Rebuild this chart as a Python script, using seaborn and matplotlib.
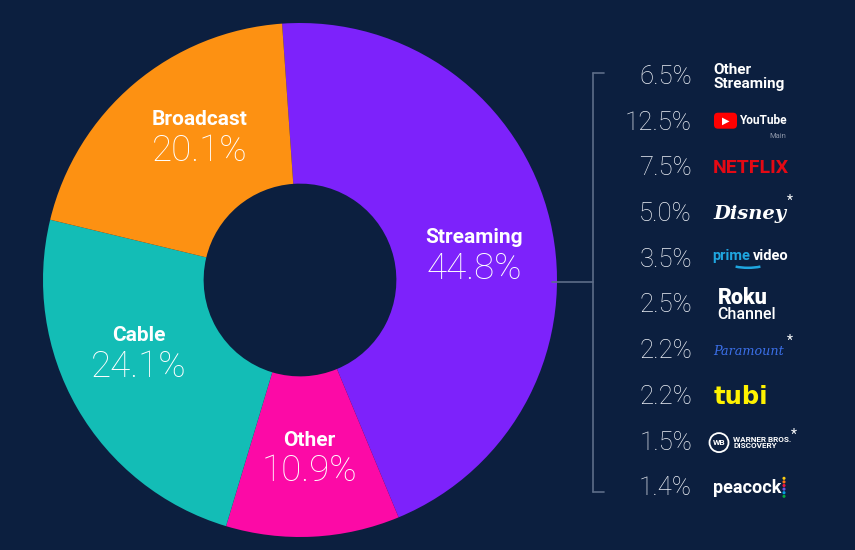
import numpy as np
import matplotlib
matplotlib.use("Agg")
import matplotlib.pyplot as plt
import seaborn as sns
from matplotlib.patches import Arc, Circle, FancyBboxPatch

# viewing share by platform
segments = ["Streaming", "Other", "Cable", "Broadcast"]
shares = [44.8, 10.9, 24.1, 20.1]
segment_colors = ["#7d22fb", "#fc0aa6", "#13bdb6", "#fd9112"]

# streaming breakdown
services = ["Other Streaming", "YouTube", "Netflix", "Disney", "Prime Video",
            "Roku Channel", "Paramount", "Tubi", "Warner Bros. Discovery", "Peacock"]
service_shares = [6.5, 12.5, 7.5, 5.0, 3.5, 2.5, 2.2, 2.2, 1.5, 1.4]

# small angular nudges (degrees) so labels sit where the original has them
label_nudge = [-4.5, 0.0, -6.0, -5.5]

BG = "#0c1f3f"
LINE = "#5d6d88"

sns.set_theme(style="dark", rc={"figure.facecolor": BG, "axes.facecolor": BG,
                                "savefig.facecolor": BG})
plt.rcParams["font.family"] = ["Roboto", "DejaVu Sans"]

fig = plt.figure(figsize=(8.55, 5.5), dpi=100)

# donut
ax = fig.add_axes([43 / 855, 13 / 550, 514 / 855, 514 / 550])
wedges, _ = ax.pie(shares, colors=sns.color_palette(segment_colors), startangle=94,
                   counterclock=False, radius=1,
                   wedgeprops=dict(width=0.625, linewidth=0))
ax.set_xlim(-1, 1)
ax.set_ylim(-1, 1)
ax.set_axis_off()

for w, name, val, nudge in zip(wedges, segments, shares, label_nudge):
    mid = np.deg2rad((w.theta1 + w.theta2) / 2 + nudge)
    x, y = 0.685 * np.cos(mid), 0.685 * np.sin(mid)
    ax.text(x, y + 0.06, name, ha="center", va="center", fontsize=15,
            fontweight="bold", color="white")
    ax.text(x, y - 0.06, f"{val:.1f}%", ha="center", va="center", fontsize=26.5,
            fontweight="light", color="white")

# overlay in pixel units for the breakdown list
ov = fig.add_axes([0, 0, 1, 1])
ov.set_xlim(0, 855)
ov.set_ylim(550, 0)
ov.set_axis_off()
ov.patch.set_alpha(0)

top, bot = 73, 492
ov.plot([593, 593], [top, bot], color=LINE, lw=1.2)
ov.plot([593, 604], [top, top], color=LINE, lw=1.2)
ov.plot([593, 604], [bot, bot], color=LINE, lw=1.2)
ov.plot([552, 593], [282, 282], color=LINE, lw=1.2)

LX = 713


def logo_other(y):
    ov.text(LX, y, "Other\nStreaming", ha="left", va="center", fontsize=11,
            fontweight="bold", color="white", linespacing=1.0)


def logo_youtube(y):
    ov.add_patch(FancyBboxPatch((714, y - 10), 23, 16,
                                boxstyle="round,pad=0,rounding_size=4",
                                fc="#ff0000", ec="none"))
    ov.text(726, y - 2, "▶", ha="center", va="center", fontsize=7, color="white",
            family=["DejaVu Sans"])
    ov.text(739, y - 2, "YouTube", ha="left", va="center", fontsize=8.6,
            fontweight="bold", color="white")
    ov.text(786, y + 13, "Main", ha="right", va="center", fontsize=5.5, color="#8a93a6")


def logo_netflix(y):
    ov.text(LX, y, "NETFLIX", ha="left", va="center", fontsize=14,
            fontweight="bold", color="#e50914")


def logo_disney(y):
    ov.text(LX, y, "Disney", ha="left", va="center", fontsize=14,
            family=["DejaVu Serif"], style="italic", fontweight="bold", color="white")
    ov.text(787, y - 13, "*", ha="left", va="center", fontsize=10, color="white")


def logo_prime(y):
    t = ov.text(LX - 1, y - 4, "prime", ha="left", va="center", fontsize=10.5,
                fontweight="bold", color="#1fa6e0")
    ov.annotate("video", xy=(1, 0.5), xycoords=t, xytext=(2, 0),
                textcoords="offset points", ha="left", va="center",
                fontsize=10.5, fontweight="bold", color="white")
    ov.add_patch(Arc((748, y + 1), 44, 14, theta1=25, theta2=155,
                     color="#1fa6e0", lw=1.8))


def logo_roku(y):
    ov.text(LX + 5, y - 8, "Roku", ha="left", va="center", fontsize=15.5,
            fontweight="black", color="white")
    ov.text(LX + 4, y + 9, "Channel", ha="left", va="center", fontsize=11.5,
            fontweight="medium", color="white")


def logo_paramount(y):
    ov.text(LX, y, "Paramount", ha="left", va="center", fontsize=9.2,
            family=["DejaVu Serif"], style="italic", color="#3b6fe8")
    ov.text(787, y - 10, "*", ha="left", va="center", fontsize=10, color="white")


def logo_tubi(y):
    ov.text(LX + 1, y, "tubi", ha="left", va="center", fontsize=17.5,
            family=["DejaVu Sans"], fontweight="bold", color="#fff200")


def logo_wb(y):
    ov.add_patch(Circle((719, y), 9.5, fc="none", ec="white", lw=1.3))
    ov.text(719, y, "WB", ha="center", va="center", fontsize=6,
            fontweight="bold", color="white")
    ov.text(733, y, "WARNER BROS.\nDISCOVERY", ha="left", va="center", fontsize=5.9,
            fontweight="bold", color="white", linespacing=0.95)
    ov.text(791, y - 8, "*", ha="left", va="center", fontsize=10, color="white")


def logo_peacock(y):
    ov.text(LX, y, "peacock", ha="left", va="center", fontsize=13,
            fontweight="bold", color="white")
    dots = ["#fccc12", "#ff7112", "#ef1541", "#6e55dc", "#069de0", "#05ac3f"]
    ov.scatter([784] * len(dots), np.linspace(y - 10, y + 8, len(dots)),
               s=5, c=dots, linewidths=0)


logos = [logo_other, logo_youtube, logo_netflix, logo_disney, logo_prime,
         logo_roku, logo_paramount, logo_tubi, logo_wb, logo_peacock]

for i, (svc, val, draw) in enumerate(zip(services, service_shares, logos)):
    y = 77 + 45.7 * i
    ov.text(692, y, f"{val:.1f}%", ha="right", va="center", fontsize=18.5,
            fontweight="light", color="#eef1f7")
    draw(y)

fig.savefig("out.png", dpi=100, facecolor=BG)
